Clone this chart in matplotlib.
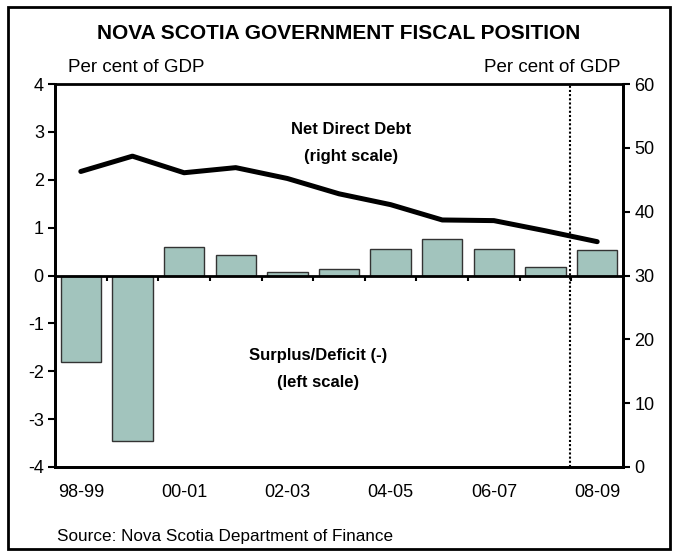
import numpy as np
import matplotlib.pyplot as plt
from matplotlib.patches import Rectangle

plt.rcParams['font.family'] = ['Liberation Sans', 'DejaVu Sans']
plt.rcParams['axes.unicode_minus'] = False

years = ['98-99', '99-00', '00-01', '01-02', '02-03', '03-04',
         '04-05', '05-06', '06-07', '07-08', '08-09']
surplus = [-1.8, -3.45, 0.59, 0.43, 0.08, 0.13, 0.56, 0.76, 0.56, 0.17, 0.54]
net_debt = [46.3, 48.7, 46.1, 46.9, 45.2, 42.8, 41.1, 38.7, 38.6, 37.0, 35.3]
left_ticks = [-4, -3, -2, -1, 0, 1, 2, 3, 4]
right_ticks = [0, 10, 20, 30, 40, 50, 60]

x = np.arange(len(years))

fig = plt.figure(figsize=(6.78, 5.55), dpi=100)
ax = fig.add_axes([0.0811, 0.1586, 0.8378, 0.69])

ax.bar(x, surplus, width=0.78, color='#a2c4bd', edgecolor='#333333', linewidth=1, zorder=2)
ax.axhline(0, color='black', lw=2, zorder=3)
# category separator ticks on the zero line
ax.vlines(x[:-1] + 0.5, -0.12, 0, color='black', lw=1.5, zorder=3)
ax.axvline(9.47, color='black', lw=1.5, ls=(0, (1, 1)), zorder=1)

ax.set_xlim(-0.5, len(years) - 0.5)
ax.set_ylim(-4, 4)
ax.set_yticks(left_ticks)
ax.set_xticks(x[::2])
ax.set_xticklabels(years[::2])
ax.tick_params(axis='x', length=0, pad=12, labelsize=13)
ax.tick_params(axis='y', direction='out', length=5, width=1.5, labelsize=13, pad=3)
for s in ax.spines.values():
    s.set_linewidth(2)
ax.spines['top'].set_visible(False)

ax2 = ax.twinx()
ax2.plot(x, net_debt, color='black', lw=3.6, solid_capstyle='round', zorder=4)
ax2.set_ylim(0, 60)
ax2.set_yticks(right_ticks)
ax2.tick_params(axis='y', direction='out', length=5, width=1.5, labelsize=13, pad=3)
for s in ax2.spines.values():
    s.set_linewidth(2)
ax2.spines['top'].set_visible(False)
ax.plot([0, 1], [1, 1], transform=ax.transAxes, color='black', lw=2, clip_on=False)

ax.text(5.24, 2.76, 'Net Direct Debt\n(right scale)', ha='center', va='center',
        fontsize=12, fontweight='bold', linespacing=2.0)
ax.text(4.6, -1.96, 'Surplus/Deficit (-)\n(left scale)', ha='center', va='center',
        fontsize=12, fontweight='bold', linespacing=2.0)

fig.text(0.5, 0.94, 'NOVA SCOTIA GOVERNMENT FISCAL POSITION', ha='center', va='center',
         fontsize=15, fontweight='bold')
fig.text(0.1, 0.879, 'Per cent of GDP', ha='left', va='center', fontsize=13.5)
fig.text(0.915, 0.879, 'Per cent of GDP', ha='right', va='center', fontsize=13.5)
fig.text(0.084, 0.034, 'Source: Nova Scotia Department of Finance', ha='left', va='center',
         fontsize=12.3)

fig.patches.append(Rectangle((0.012, 0.01), 0.976, 0.978, transform=fig.transFigure,
                             fill=False, edgecolor='black', lw=2))

fig.savefig('out.png', dpi=100)
